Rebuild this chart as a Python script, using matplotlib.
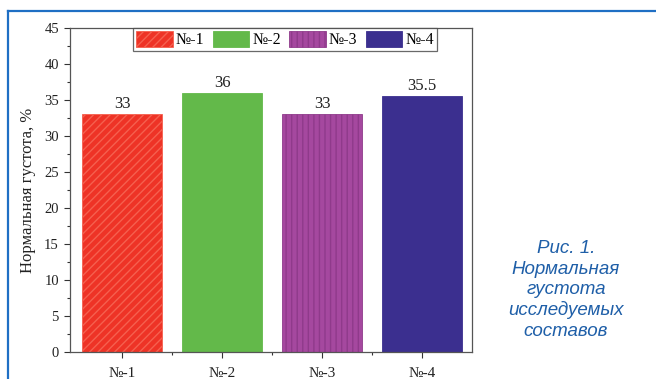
import matplotlib
matplotlib.use("Agg")
import matplotlib.pyplot as plt
from matplotlib.lines import Line2D
from matplotlib.ticker import MultipleLocator, FixedLocator

categories = ["№-1", "№-2", "№-3", "№-4"]
values = [33, 36, 33, 35.5]
value_labels = ["33", "36", "33", "35.5"]
colors = ["#ee3326", "#63b94a", "#a5489f", "#3b2f8f"]
hatch_colors = ["#f5604f", "#63b94a", "#8f3a8b", "#3b2f8f"]
hatches = ["////", "", "|||", ""]
ylabel = "Нормальная густота, %"
caption = "Рис. 1.\nНормальная\nгустота\nисследуемых\nсоставов"

W, H = 656, 379
fig = plt.figure(figsize=(W / 100, H / 100), dpi=100)
serif = "Liberation Serif"

ax = fig.add_axes([70 / W, 1 - 352 / H, (472 - 70) / W, (352 - 28) / H])
x = list(range(1, len(categories) + 1))
bars = ax.bar(x, values, width=0.8, color=colors, edgecolor=hatch_colors, linewidth=0.6, zorder=2)
for b, h in zip(bars, hatches):
    b.set_hatch(h)

ax.set_xlim(0.48, 4.5)
ax.set_ylim(0, 45)
ax.yaxis.set_major_locator(MultipleLocator(5))
ax.yaxis.set_minor_locator(MultipleLocator(2.5))
ax.set_xticks(x)
ax.set_xticklabels(categories, fontfamily=serif, fontsize=11)
ax.xaxis.set_minor_locator(FixedLocator([1.5, 2.5, 3.5]))
ax.tick_params(axis="both", which="major", direction="out", length=4.5, width=0.8, colors="#333333")
ax.tick_params(axis="both", which="minor", direction="out", length=2.5, width=0.8, colors="#333333")
ax.tick_params(axis="x", which="major", pad=6)
ax.tick_params(axis="both", labelcolor="#222222")
for lab in ax.get_yticklabels():
    lab.set_fontfamily(serif)
    lab.set_fontsize(10.5)
for sp in ax.spines.values():
    sp.set_color("#555555")
    sp.set_linewidth(0.9)

ax.set_ylabel(ylabel, fontfamily=serif, fontsize=12, color="#222222", labelpad=6)

for xi, v, t in zip(x, values, value_labels):
    ax.text(xi, v + 0.3, t, ha="center", va="bottom", fontfamily=serif, fontsize=12, color="#222222")

leg = ax.legend(bars, categories, loc="upper center", bbox_to_anchor=(0.535, 1.0), ncol=4,
                prop={"family": serif, "size": 11.5}, frameon=True, fancybox=False,
                handlelength=2.3, handleheight=1.1, columnspacing=0.5, handletextpad=0.2,
                borderpad=0.2, borderaxespad=0.0)
leg.get_frame().set_edgecolor("#444444")
leg.get_frame().set_linewidth(0.9)

# blue frame lines
fig.add_artist(Line2D([8 / W, 1.0], [1 - 10.5 / H, 1 - 10.5 / H], transform=fig.transFigure,
                      color="#1f6fc4", linewidth=1.6))
fig.add_artist(Line2D([8 / W, 8 / W], [0, 1 - 10.5 / H], transform=fig.transFigure,
                      color="#1f6fc4", linewidth=1.6))

fig.text(566 / W, 1 - 290 / H, caption, ha="center", va="center", fontfamily="Liberation Sans",
         fontstyle="italic", fontsize=13.5, color="#1f5fa8", linespacing=1.25)

fig.savefig("out.png", dpi=100)
